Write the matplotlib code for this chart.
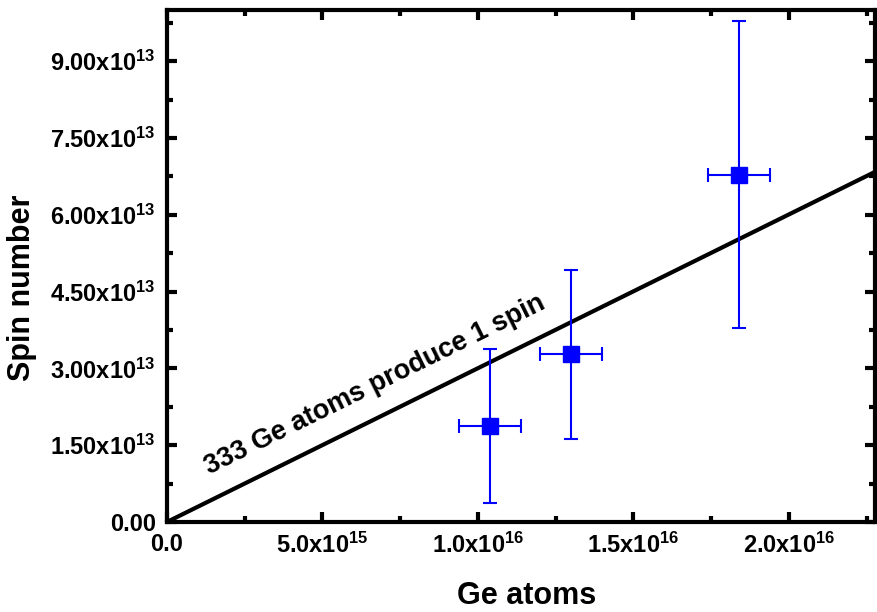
import matplotlib
matplotlib.use('Agg')
import matplotlib.pyplot as plt
from matplotlib.ticker import MultipleLocator, FuncFormatter
import numpy as np

# data
ge_atoms = [1.04e16, 1.30e16, 1.84e16]
ge_err = [1.0e15, 1.0e15, 1.0e15]
spins = [1.87e13, 3.28e13, 6.78e13]
spin_err = [1.5e13, 1.65e13, 3.0e13]
atoms_per_spin = 333

plt.rcParams['font.family'] = ['Liberation Sans', 'DejaVu Sans']
plt.rcParams['font.weight'] = 'bold'
plt.rcParams['mathtext.fontset'] = 'custom'
plt.rcParams['mathtext.rm'] = 'Liberation Sans:bold'
plt.rcParams['mathtext.it'] = 'Liberation Sans:bold'
plt.rcParams['mathtext.bf'] = 'Liberation Sans:bold'
plt.rcParams['mathtext.default'] = 'rm'


def sci_label(v, digits):
    if v == 0:
        return '0.' + '0' * digits
    exp = int(np.floor(np.log10(abs(v))))
    mant = v / 10 ** exp
    return '%.*fx10$^{%d}$' % (digits, mant, exp)


fig = plt.figure(figsize=(8.77, 6.12), dpi=100)
ax = fig.add_axes([0.1904, 0.1471, 0.8073, 0.8366])

xmax = 2.277e16
ymax = 1.0e14

# fit line: 333 Ge atoms per spin
xl = np.array([0, xmax])
ax.plot(xl, xl / atoms_per_spin, color='black', lw=3, zorder=2)

ax.errorbar(ge_atoms, spins, xerr=ge_err, yerr=spin_err, fmt='s', color='#0000ff',
            ms=11, elinewidth=1.5, capsize=5, capthick=1.5, zorder=3)

ax.set_xlim(0, xmax)
ax.set_ylim(0, ymax)

ax.xaxis.set_major_locator(MultipleLocator(5e15))
ax.xaxis.set_minor_locator(MultipleLocator(2.5e15))
ax.yaxis.set_major_locator(MultipleLocator(1.5e13))
ax.yaxis.set_minor_locator(MultipleLocator(0.75e13))
ax.xaxis.set_major_formatter(FuncFormatter(lambda v, p: sci_label(v, 1)))
ax.yaxis.set_major_formatter(FuncFormatter(lambda v, p: sci_label(v, 2)))

for s in ax.spines.values():
    s.set_linewidth(3)
ax.tick_params(which='both', direction='in', top=True, right=True, width=3)
ax.tick_params(which='major', length=7, labelsize=17, pad=8)
ax.tick_params(which='minor', length=4)

ax.set_xlabel('Ge atoms', fontsize=22, fontweight='bold')
ax.set_ylabel('Spin number', fontsize=22, fontweight='bold')
ax.xaxis.set_label_coords(0.508, -0.115)
ax.yaxis.set_label_coords(-0.183, 0.457)

ax.text(0.67e16, 2.68e13, '333 Ge atoms produce 1 spin', fontsize=19.5, fontweight='bold',
        rotation=26.3, rotation_mode='anchor', ha='center', va='center')

fig.savefig('out.png', dpi=100)
